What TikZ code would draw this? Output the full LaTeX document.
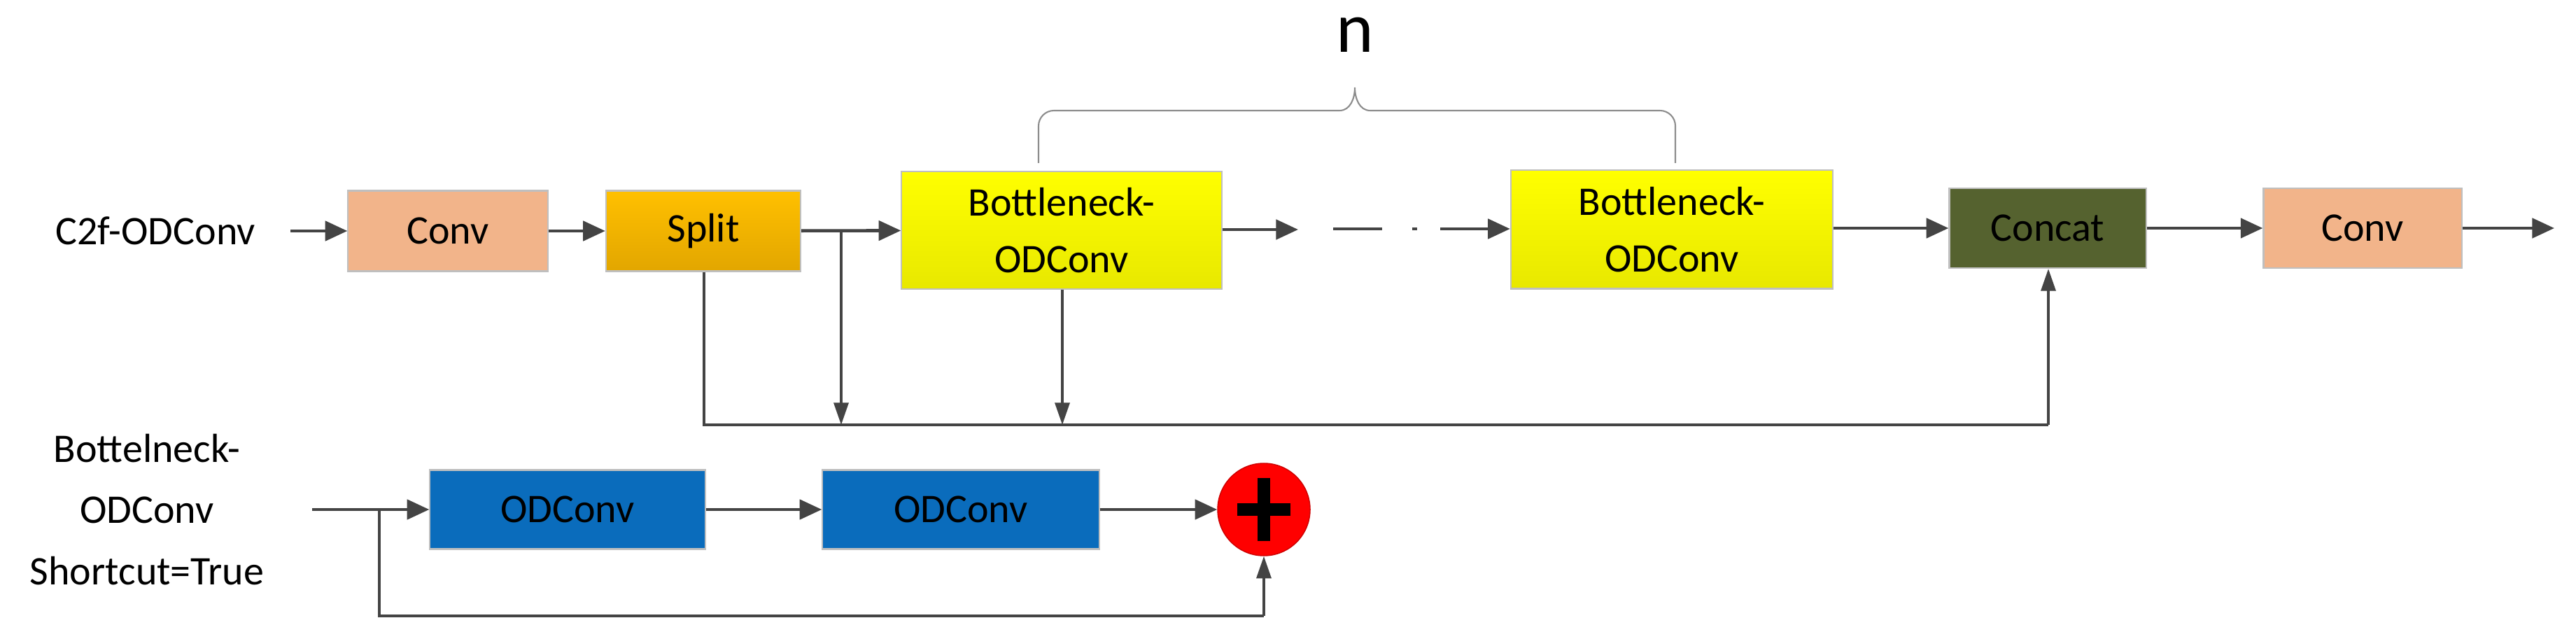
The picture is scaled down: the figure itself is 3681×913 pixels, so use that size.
\documentclass[tikz,border=0pt]{standalone}
\usepackage{fontspec}
\setmainfont{Carlito}
\usetikzlibrary{arrows.meta,positioning,calc}
\definecolor{convcol}{HTML}{F2B48A}
\definecolor{splittop}{HTML}{FFC000}
\definecolor{splitbot}{HTML}{E2A600}
\definecolor{bncol}{HTML}{FFFF00}
\definecolor{bnbot}{HTML}{E8E800}
\definecolor{catcol}{HTML}{55622F}
\definecolor{odcol}{HTML}{0A6CBC}
\definecolor{linecol}{HTML}{444444}
\tikzset{
  blk/.style={draw=black!25, line width=0.6pt, inner sep=0pt, align=center,
    font=\fontsize{16.5}{23}\selectfont},
  arr/.style={-{Triangle[length=9pt,width=8pt]}, line width=1.3pt, draw=linecol},
  thin arr/.style={-{Triangle[length=9pt,width=6pt]}, line width=0.9pt, draw=linecol},
  wire/.style={line width=0.9pt, draw=linecol},
  lbl/.style={font=\fontsize{16.5}{23}\selectfont, align=center}
}
\begin{document}
\begin{tikzpicture}[x=0.01cm,y=-0.01cm]
  \useasboundingbox (0,0) rectangle (3681,913);
  % top row
  \node[lbl] (in) at (222,330) {C2f-ODConv};
  \node[blk, fill=convcol, minimum width=2.85cm, minimum height=1.15cm] (conv1) at (640,330) {Conv};
  \node[blk, top color=splittop, bottom color=splitbot, minimum width=2.78cm, minimum height=1.15cm] (split) at (1005,330) {Split};
  \node[blk, top color=bncol, bottom color=bnbot, minimum width=4.57cm, minimum height=1.68cm] (bn1) at (1517,329) {Bottleneck-\\ODConv};
  \node[blk, top color=bncol, bottom color=bnbot, minimum width=4.6cm, minimum height=1.69cm] (bn2) at (2389,328) {Bottleneck-\\ODConv};
  \node[blk, fill=catcol, minimum width=2.81cm, minimum height=1.14cm] (cat) at (2926,326) {Concat};
  \node[blk, fill=convcol, minimum width=2.83cm, minimum height=1.14cm] (conv2) at (3376,326) {Conv};
  \coordinate (out) at (3650,326);
  \coordinate (in0) at (415,330);
  % connectors
  \draw[arr] (in0) -- (conv1);
  \draw[arr] (conv1) -- (split);
  \draw[arr] (split) -- (bn1);
  \coordinate (d1) at (1855,328);
  \coordinate (d2) at (1905,327);
  \coordinate (d3) at (2025,327);
  \coordinate (d4) at (2058,327);
  \draw[arr] (bn1.east |- d1) -- (d1);
  \draw[wire, line width=1.3pt, dash pattern=on 20pt off 12pt] (d2) -- (d3);
  \draw[arr] (d4) -- (bn2.west |- d4);
  \draw[arr] (bn2.east |- cat) -- (cat);
  \draw[arr] (cat) -- (conv2);
  \draw[arr] (conv2) -- (out);
  % feedback lines
  \coordinate (b0) at (1006,607);
  \coordinate (b1) at (1202,607);
  \coordinate (b2) at (1518,607);
  \coordinate (b3) at (2927,607);
  \draw[wire] (split.south -| b0) -- (b0) -- (b3);
  \draw[thin arr] (b3) -- (cat.south -| b3);
  \draw[thin arr] (b1 |- split) -- (b1);
  \draw[thin arr] (bn1.south -| b2) -- (b2);
  % brace
  \coordinate (br) at (1936,125);
  \draw[black!45, line width=0.6pt] (1484,233) -- (1484,180) to[out=90,in=180] (1506,158)
    -- (1914,158) to[out=0,in=-90] (br) to[out=-90,in=180] (1958,158)
    -- (2372,158) to[out=0,in=90] (2394,180) -- (2394,233);
  \node[font=\fontsize{29}{30}\selectfont] (n) at (1936,50) {n};
  % bottom row
  \node[lbl, font=\fontsize{16.5}{25}\selectfont] (bin) at (210,728) {Bottelneck-\\ODConv\\Shortcut=True};
  \node[blk, fill=odcol, minimum width=3.93cm, minimum height=1.13cm] (od1) at (811,728) {ODConv};
  \node[blk, fill=odcol, minimum width=3.95cm, minimum height=1.13cm] (od2) at (1373,728) {ODConv};
  \node[circle, draw=red!80!black, fill=red, minimum size=1.32cm, inner sep=0pt] (add) at (1806,728) {};
  \draw[line width=5pt] ($(add.center)+(0,-45)$) -- ($(add.center)+(0,45)$);
  \draw[line width=5pt] ($(add.center)+(-38,0)$) -- ($(add.center)+(38,0)$);
  \coordinate (bin0) at (446,728);
  \coordinate (s0) at (542,728);
  \coordinate (s1) at (542,880);
  \draw[arr] (bin0) -- (od1);
  \draw[arr] (od1) -- (od2);
  \draw[arr] (od2) -- (add);
  \draw[wire] (s0) -- (s1) -- (s1 -| add);
  \draw[thin arr] (s1 -| add) -- (add);
\end{tikzpicture}
\end{document}
